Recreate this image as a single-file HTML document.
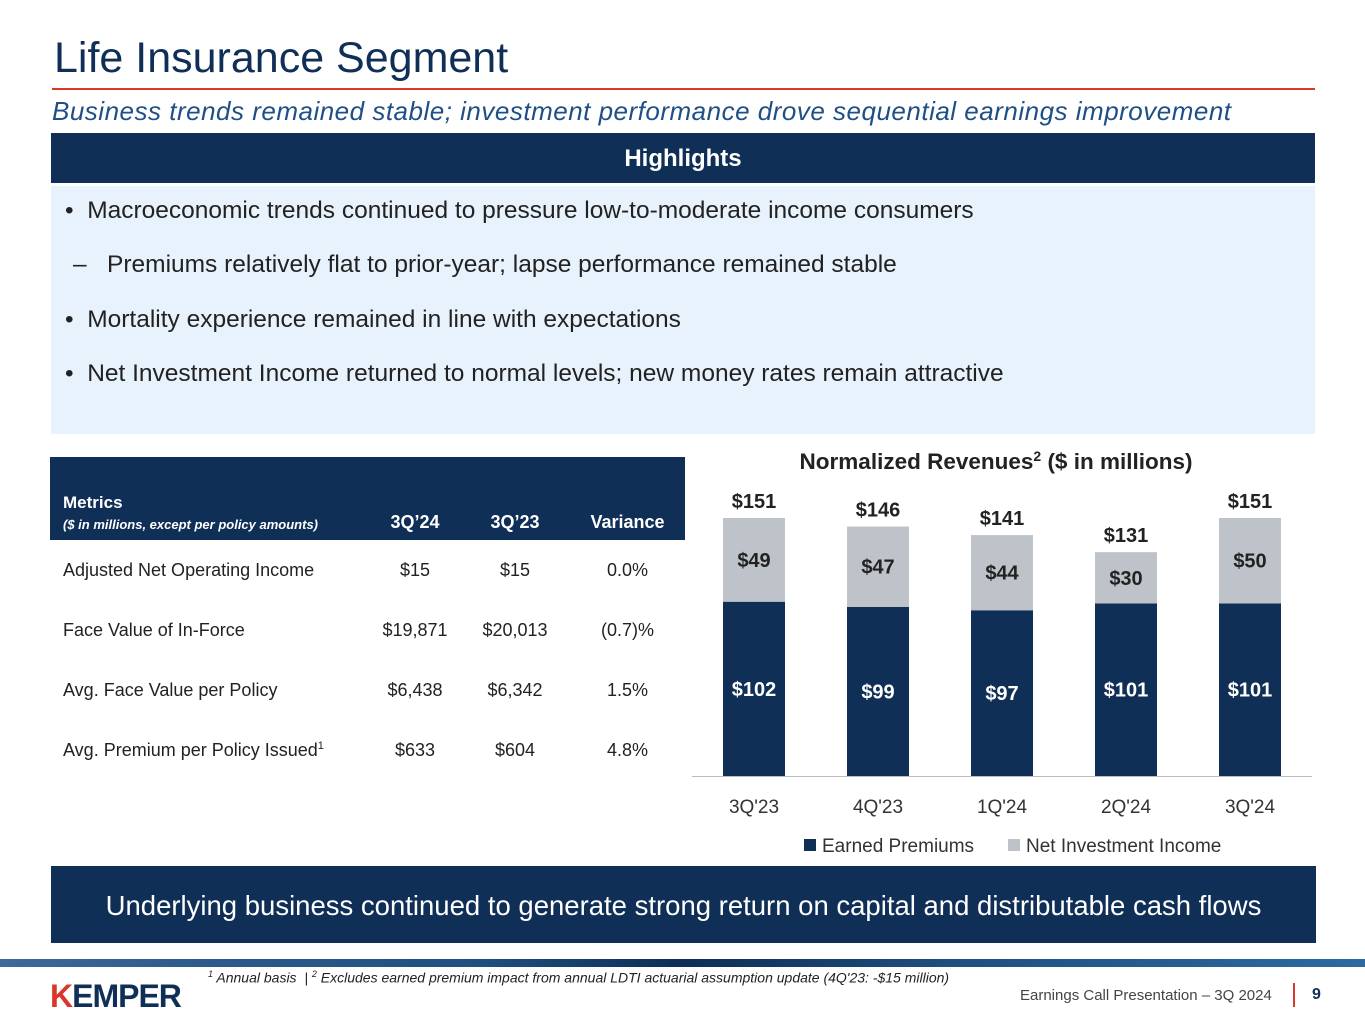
<!DOCTYPE html>
<html><head><meta charset="utf-8"><style>
*{margin:0;padding:0;box-sizing:border-box}
body{width:1365px;height:1024px;background:#fff;font-family:"Liberation Sans",sans-serif;position:relative;overflow:hidden;color:#222}
.abs{position:absolute;white-space:nowrap}
</style></head><body>
<div class="abs" style="left:54px;top:34px;font-size:43px;color:#0f2f57">Life Insurance Segment</div>
<div class="abs" style="left:52px;top:88px;width:1263px;height:2px;background:#d9372a"></div>
<div class="abs" style="left:52px;top:96px;font-size:26px;font-style:italic;color:#1e4f86;letter-spacing:0.5px">Business trends remained stable; investment performance drove sequential earnings improvement</div>
<div class="abs" style="left:51px;top:133px;width:1264px;height:50px;background:#0f2f57;color:#fff;font-weight:bold;font-size:24px;text-align:center;line-height:52px">Highlights</div>
<div class="abs" style="left:51px;top:186px;width:1264px;height:248px;background:#e8f2fd;font-size:24.5px;color:#222">
<div class="abs" style="left:14px;top:11px">•&nbsp;&nbsp;Macroeconomic trends continued to pressure low-to-moderate income consumers</div>
<div class="abs" style="left:22px;top:65px">–&nbsp;&nbsp;&nbsp;Premiums relatively flat to prior-year; lapse performance remained stable</div>
<div class="abs" style="left:14px;top:120px">•&nbsp;&nbsp;Mortality experience remained in line with expectations</div>
<div class="abs" style="left:14px;top:174px">•&nbsp;&nbsp;Net Investment Income returned to normal levels; new money rates remain attractive</div>
</div>
<div class="abs" style="left:50px;top:457px;width:635px;height:320px;font-size:18px">
<div class="abs" style="left:0;top:0;width:635px;height:83px;background:#0f2f57;color:#fff;font-weight:bold">
<div class="abs" style="left:13px;top:36px;font-size:17px">Metrics</div>
<div class="abs" style="left:13px;top:60px;font-size:13px;font-style:italic">($ in millions, except per policy amounts)</div>
<div class="abs" style="left:335px;top:55px;width:60px;text-align:center">3Q’24</div>
<div class="abs" style="left:435px;top:55px;width:60px;text-align:center">3Q’23</div>
<div class="abs" style="left:530px;top:55px;width:95px;text-align:center">Variance</div>
</div>
<div class="abs" style="left:13px;top:103px">Adjusted Net Operating Income</div><div class="abs" style="left:315px;top:103px;width:100px;text-align:center">$15</div><div class="abs" style="left:415px;top:103px;width:100px;text-align:center">$15</div><div class="abs" style="left:535px;top:103px;width:85px;text-align:center">0.0%</div>
<div class="abs" style="left:13px;top:163px">Face Value of In-Force</div><div class="abs" style="left:315px;top:163px;width:100px;text-align:center">$19,871</div><div class="abs" style="left:415px;top:163px;width:100px;text-align:center">$20,013</div><div class="abs" style="left:535px;top:163px;width:85px;text-align:center">(0.7)%</div>
<div class="abs" style="left:13px;top:223px">Avg. Face Value per Policy</div><div class="abs" style="left:315px;top:223px;width:100px;text-align:center">$6,438</div><div class="abs" style="left:415px;top:223px;width:100px;text-align:center">$6,342</div><div class="abs" style="left:535px;top:223px;width:85px;text-align:center">1.5%</div>
<div class="abs" style="left:13px;top:283px">Avg. Premium per Policy Issued<sup style="font-size:11px">1</sup></div><div class="abs" style="left:315px;top:283px;width:100px;text-align:center">$633</div><div class="abs" style="left:415px;top:283px;width:100px;text-align:center">$604</div><div class="abs" style="left:535px;top:283px;width:85px;text-align:center">4.8%</div>
</div>
<svg class="abs" id="chart" style="left:0;top:0" width="1365" height="1024"></svg>
<div class="abs" style="left:51px;top:866px;width:1265px;height:77px;background:#0f2f57;color:#fff;font-size:27.5px;text-align:center;line-height:80px">Underlying business continued to generate strong return on capital and distributable cash flows</div>
<div class="abs" style="left:0;top:959px;width:1365px;height:8px;background:linear-gradient(90deg,#3d6a9a 0%,#2d5a8c 15%,#1f4f80 35%,#0d2f55 50%,#1f4f80 70%,#2d6aa0 100%)"></div>
<div class="abs" style="left:50px;top:978px;font-size:32px;font-weight:bold;color:#0f2f57;letter-spacing:-1px"><span style="color:#d9372a">K</span>EMPER</div>
<div class="abs" style="left:208px;top:969px;font-size:14px;font-style:italic"><sup style="font-size:9px">1</sup> Annual basis &nbsp;| <sup style="font-size:9px">2</sup> Excludes earned premium impact from annual LDTI actuarial assumption update (4Q'23: -$15 million)</div>
<div class="abs" style="left:1020px;top:987px;font-size:15px;color:#444">Earnings Call Presentation – 3Q 2024</div>
<div class="abs" style="left:1293px;top:983px;width:2px;height:24px;background:#d9372a"></div>
<div class="abs" style="left:1312px;top:986px;font-size:16px;font-weight:bold;color:#0f2f57">9</div>
<script>
const categories=["3Q'23","4Q'23","1Q'24","2Q'24","3Q'24"];
const premiums=[102,99,97,101,101];
const nii=[49,47,44,30,50];
const totals=[151,146,141,131,151];
const svg=document.getElementById('chart');
const NS='http://www.w3.org/2000/svg';
const base=776,scale=258/151,x0=754,step=124,bw=62;
const xs=i=>x0+i*step, ys=v=>base-v*scale;
function mk(t,a,txt){const e=document.createElementNS(NS,t);for(const k in a)e.setAttribute(k,a[k]);if(txt!=null)e.textContent=txt;svg.appendChild(e);return e;}
let t=mk('text',{x:996,y:469,'text-anchor':'middle','font-size':22.5,'font-weight':'bold',fill:'#222'});


t.innerHTML='Normalized Revenues<tspan font-size="14" dy="-8">2</tspan><tspan dy="8"> ($ in millions)</tspan>';
categories.forEach((c,i)=>{
 const cx=xs(i),p=premiums[i],n=nii[i];
 let r=mk('rect',{x:cx-bw/2,y:ys(p),width:bw,height:p*scale,fill:'#0f2f57'});
 
 
 let r2=mk('rect',{x:cx-bw/2,y:ys(p+n),width:bw,height:n*scale,fill:'#bdc3c9'});
 
 
 let l1=mk('text',{x:cx,y:ys(p/2)+7,'text-anchor':'middle','font-size':20,'font-weight':'bold',fill:'#fff'},'$'+p);
 
 
 let l2=mk('text',{x:cx,y:ys(p+n/2)+7,'text-anchor':'middle','font-size':20,'font-weight':'bold',fill:'#222'},'$'+n);
 
 
 let l3=mk('text',{x:cx,y:ys(totals[i])-10,'text-anchor':'middle','font-size':20,'font-weight':'bold',fill:'#222'},'$'+totals[i]);
 
 
 let xl=mk('text',{x:cx,y:813,'text-anchor':'middle','font-size':19,fill:'#333'},c);
 
 
});
let ax=mk('line',{x1:692,x2:1312,y1:base+0.5,y2:base+0.5,stroke:'#bbb','stroke-width':1});


let lg1=mk('rect',{x:804,y:839,width:12,height:12,fill:'#0f2f57'});


mk('text',{x:822,y:852,'font-size':19,fill:'#333'},'Earned Premiums');
let lg2=mk('rect',{x:1008,y:839,width:12,height:12,fill:'#bdc3c9'});


mk('text',{x:1026,y:852,'font-size':19,fill:'#333'},'Net Investment Income');
</script>
</body></html>
